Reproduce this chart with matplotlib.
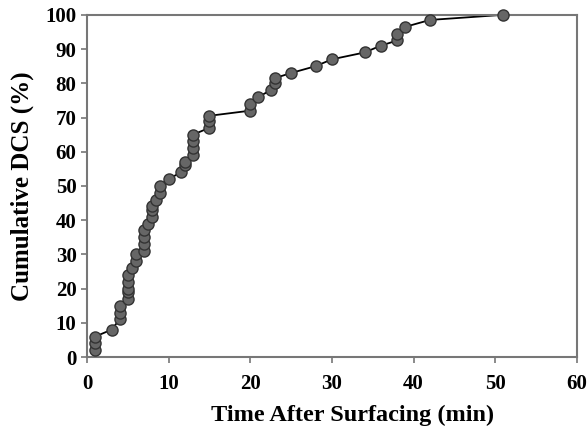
import numpy as np
import matplotlib.pyplot as plt

# time after surfacing (min) and cumulative DCS (%)
time_min = [1, 1, 1, 3, 4, 4, 4, 5, 5, 5, 5, 5, 5.5, 6, 6,
            7, 7, 7, 7, 7.5, 8, 8, 8, 8.5, 9, 9, 10, 11.5, 12, 12,
            13, 13, 13, 13, 15, 15, 15, 20, 20, 21, 22.5, 23, 23,
            25, 28, 30, 34, 36, 38, 38, 39, 42, 51]
cum_dcs = [2, 4, 6, 8, 11, 13, 15, 17, 19, 20, 22, 24, 26, 28, 30,
           31, 33, 35, 37, 39, 41, 43, 44, 46, 48, 50, 52, 54, 56, 57,
           59, 61, 63, 65, 67, 69, 70.5, 72, 74, 76, 78, 80, 81.5,
           83, 85, 87, 89, 91, 92.5, 94.5, 96.5, 98.5, 100]

plt.rcParams['font.family'] = ['Liberation Serif', 'DejaVu Serif']

fig = plt.figure(figsize=(5.88, 4.36), dpi=100)
ax = fig.add_axes([0.148, 0.181, 0.833, 0.785])

ax.plot(time_min, cum_dcs, '-', color='black', lw=1.3, zorder=2)
ax.plot(time_min, cum_dcs, 'o', ms=8, mfc='#666666', mec='#333333', mew=1.0,
        zorder=3, clip_on=False)

ax.set_xlim(0, 60)
ax.set_ylim(0, 100)
ax.set_xticks(np.arange(0, 61, 10))
ax.set_yticks(np.arange(0, 101, 10))
ax.tick_params(direction='out', length=4, width=1.2, color='#777777',
               labelsize=15)
for lbl in ax.get_xticklabels() + ax.get_yticklabels():
    lbl.set_fontweight('bold')
ax.tick_params(axis='x', pad=8)

for s in ax.spines.values():
    s.set_color('#777777')
    s.set_linewidth(1.5)

ax.set_xlabel('Time After Surfacing (min)', fontsize=17.5, fontweight='bold')
ax.xaxis.set_label_coords(0.543, -0.14)
ax.set_ylabel('Cumulative DCS (%)', fontsize=18, fontweight='bold', labelpad=8)

fig.savefig('out.png', dpi=100)
